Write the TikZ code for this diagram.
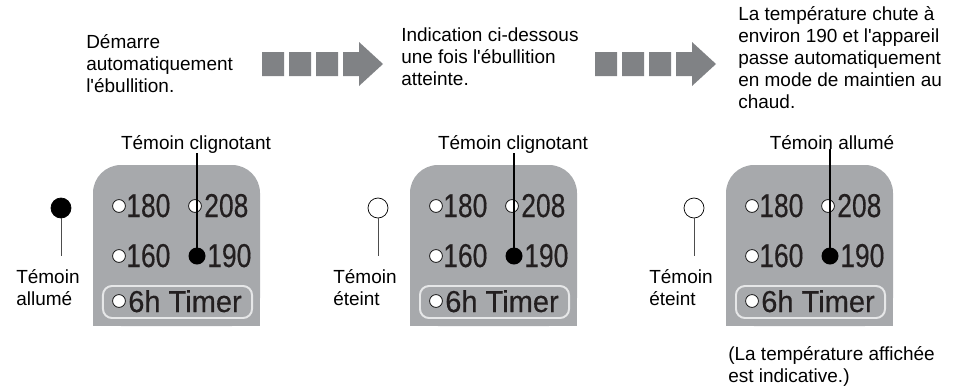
\documentclass[tikz,border=0pt]{standalone}
\usepackage{fontspec}
\setmainfont{Liberation Sans}
\newfontfamily\lcdfont[FakeStretch=0.8,FakeBold=0.3]{Liberation Sans}
\newfontfamily\lcdtimer[FakeStretch=0.96,FakeBold=0.3]{Liberation Sans}
\usetikzlibrary{positioning}
\definecolor{grisPanneau}{RGB}{167,169,172}
\definecolor{grisFleche}{RGB}{128,130,133}
\definecolor{grisCadre}{RGB}{230,231,232}
\definecolor{grisTige}{RGB}{77,77,77}
\definecolor{noirLCD}{RGB}{35,31,32}

\begin{document}
\begin{tikzpicture}[x=0.025cm, y=-0.025cm,
  texte/.style   = {anchor=base west, inner sep=0, align=left,
                    font=\fontsize{13.5}{15.6}\selectfont},
  etiq/.style    = {anchor=base, inner sep=0, font=\fontsize{13.5}{15.6}\selectfont},
  chiffre/.style = {anchor=base west, inner sep=0, text=noirLCD,
                    font=\lcdfont\fontsize{23.5}{24}\selectfont},
  minut/.style   = {anchor=base west, inner sep=0, text=noirLCD,
                    font=\lcdtimer\fontsize{21.5}{24}\selectfont},
  ledoff/.style  = {circle, draw=black, line width=0.5pt, fill=white, inner sep=0, minimum size=3.2mm},
  ledon/.style   = {circle, fill=black, inner sep=0, minimum size=4.25mm},
  voyant/.style  = {circle, draw=black, line width=0.5pt, inner sep=0, minimum size=5mm},
  tige/.style    = {draw=grisTige, line width=0.7pt},
  repere/.style  = {draw=black, line width=1pt},
  panneau/.style = {fill=grisPanneau},
  cadre/.style   = {draw=grisCadre, line width=1.4pt, rounded corners=2.25mm,
                    minimum width=3.725cm, minimum height=0.8cm, inner sep=0},
]
\useasboundingbox (0,0) rectangle (960,389);

% ── Textes d'en-tête (ancrés sur la dernière ligne) ──────────
\node[texte] (hdr1) at (86,92)   {Démarre\\automatiquement\\l\textquotesingle ébullition.};
\node[texte] (hdr2) at (401,85)  {Indication ci-dessous\\une fois l\textquotesingle ébullition\\atteinte.};
\node[texte] (hdr3) at (738,108) {La température chute à\\environ 190 et l\textquotesingle appareil\\passe automatiquement\\en mode de maintien au\\chaud.};

% ── Flèches ──────────────────────────────────────────────────
\fill[grisFleche] (262,52) rectangle (284,76) (289,52) rectangle (311,76) (316,52) rectangle (338,76);
\fill[grisFleche] (343,52) -- (359,52) -- (359,42) -- (383,64) -- (359,86) -- (359,76) -- (343,76) -- cycle;
\fill[grisFleche] (595,52) rectangle (617,76) (622,52) rectangle (644,76) (649,52) rectangle (671,76);
\fill[grisFleche] (676,52) -- (692,52) -- (692,42) -- (716,64) -- (692,86) -- (692,76) -- (676,76) -- cycle;

% ── Panneau 1 : ébullition ───────────────────────────────────
\fill[panneau, rounded corners=7mm] (93,165) rectangle (260,326);
\fill[panneau] (93,220) rectangle (260,326);
\node[cadre] (cad1) at (177.5,302) {};
\node[ledoff]  (o180-1) at (119,206) {};
\node[chiffre] (t180-1) at (126,217) {180};
\node[ledoff]  (o208-1) at (195,206) {};
\node[chiffre] (t208-1) at (204,217) {208};
\node[ledoff]  (o160-1) at (119,256) {};
\node[chiffre] (t160-1) at (126,267) {160};
\node[ledon]   (o190-1) at (197,256) {};
\node[chiffre] (t190-1) at (207,267) {190};
\node[ledoff]  (oTim-1) at (119,301) {};
\node[minut]   (tTim-1) at (128,312) {6h Timer};
\node[etiq]    (lab1)   at (196,149) {Témoin clignotant};
\draw[repere] (lab1.south -| o190-1) -- (o190-1.center);
\node[voyant, fill=black] (led1) at (61,208) {};
\coordinate (tige1) at (61,256);
\draw[tige] (led1) -- (tige1);
\node[texte] (cote1) at (16,305) {Témoin\\allumé};

% ── Panneau 2 : ébullition atteinte ──────────────────────────
\fill[panneau, rounded corners=7mm] (410,165) rectangle (577,326);
\fill[panneau] (410,220) rectangle (577,326);
\node[cadre] (cad2) at (494.5,302) {};
\node[ledoff]  (o180-2) at (436,206) {};
\node[chiffre] (t180-2) at (443,217) {180};
\node[ledoff]  (o208-2) at (512,206) {};
\node[chiffre] (t208-2) at (521,217) {208};
\node[ledoff]  (o160-2) at (436,256) {};
\node[chiffre] (t160-2) at (443,267) {160};
\node[ledon]   (o190-2) at (514,256) {};
\node[chiffre] (t190-2) at (524,267) {190};
\node[ledoff]  (oTim-2) at (436,301) {};
\node[minut]   (tTim-2) at (445,312) {6h Timer};
\node[etiq]    (lab2)   at (513,149) {Témoin clignotant};
\draw[repere] (lab2.south -| o190-2) -- (o190-2.center);
\node[voyant, fill=white] (led2) at (378,208) {};
\coordinate (tige2) at (378,256);
\draw[tige] (led2) -- (tige2);
\node[texte] (cote2) at (333,305) {Témoin\\éteint};

% ── Panneau 3 : maintien au chaud ────────────────────────────
\fill[panneau, rounded corners=7mm] (726,165) rectangle (893,326);
\fill[panneau] (726,220) rectangle (893,326);
\node[cadre] (cad3) at (810.5,302) {};
\node[ledoff]  (o180-3) at (752,206) {};
\node[chiffre] (t180-3) at (759,217) {180};
\node[ledoff]  (o208-3) at (828,206) {};
\node[chiffre] (t208-3) at (837,217) {208};
\node[ledoff]  (o160-3) at (752,256) {};
\node[chiffre] (t160-3) at (759,267) {160};
\node[ledon]   (o190-3) at (830,256) {};
\node[chiffre] (t190-3) at (840,267) {190};
\node[ledoff]  (oTim-3) at (752,301) {};
\node[minut]   (tTim-3) at (761,312) {6h Timer};
\node[etiq]    (lab3)   at (832,149) {Témoin allumé};
\draw[repere] (lab3.south -| o190-3) -- (o190-3.center);
\node[voyant, fill=white] (led3) at (694,208) {};
\coordinate (tige3) at (694,256);
\draw[tige] (led3) -- (tige3);
\node[texte] (cote3) at (649,305) {Témoin\\éteint};
\node[texte] (note3) at (728,382) {(La température affichée\\est indicative.)};

\end{tikzpicture}
\end{document}
